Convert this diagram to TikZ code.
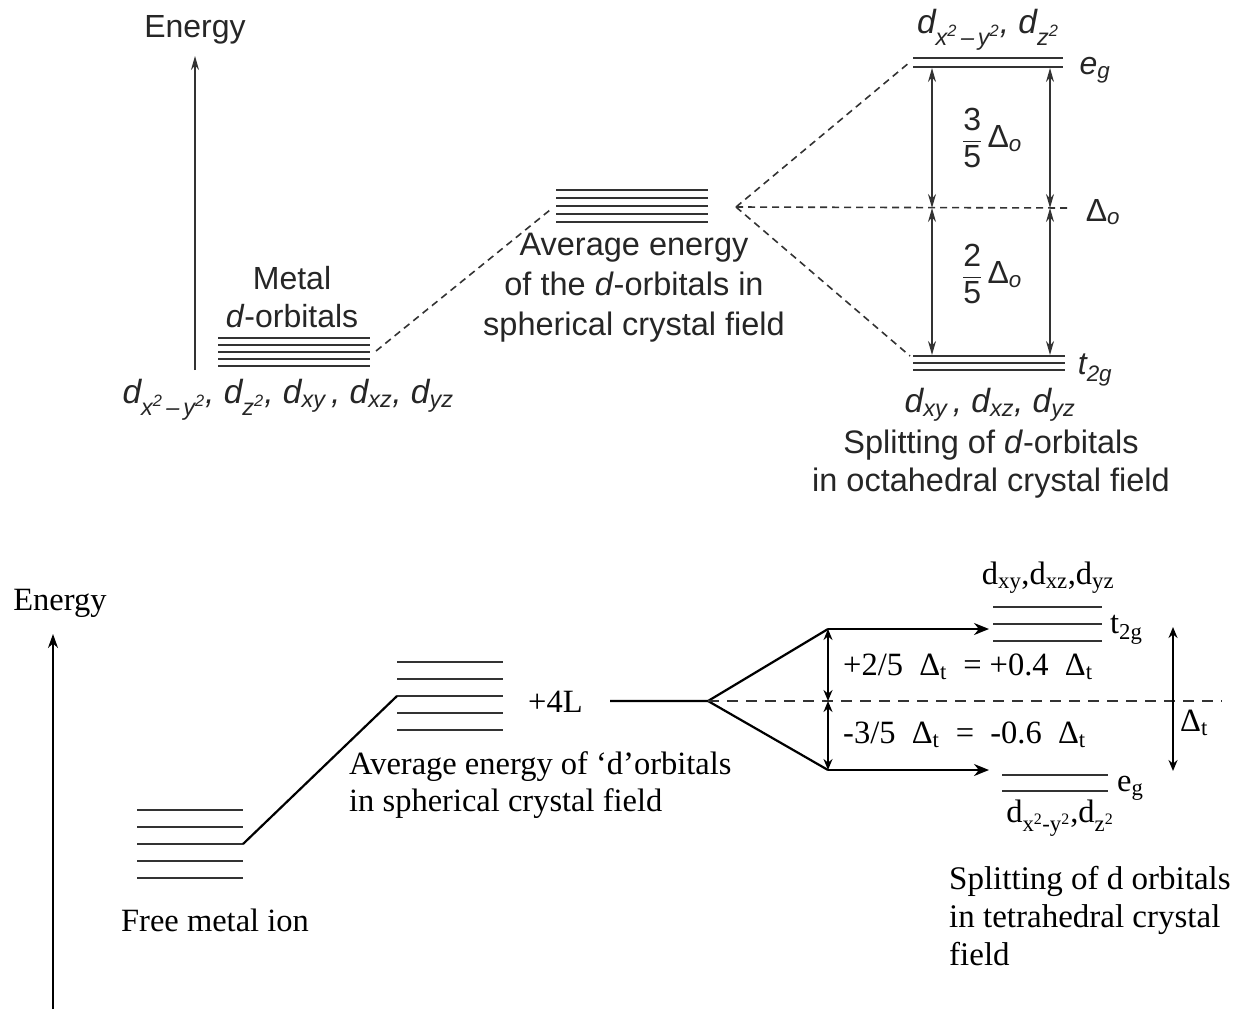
\documentclass[tikz,border=0pt]{standalone}
\usepackage{amsmath}
\usepackage{fontspec}
\setmainfont{Liberation Serif}
\setsansfont{Liberation Sans}
\usepackage{tikz}
\usetikzlibrary{positioning, arrows.meta, calc}

\newcommand{\sqr}{\textsuperscript{2}}
\tikzset{
  tlab/.style={font=\fontsize{32}{38}\selectfont\sffamily, text=black!85, inner sep=0pt},
  blab/.style={font=\fontsize{32.5}{37}\selectfont, inner sep=0pt},
  tlvl/.style={line width=2pt, black!80},
  blvl/.style={line width=2.4pt, black!80},
  tdash/.style={dashed, dash pattern=on 7pt off 5pt, line width=1.6pt, black!80},
  bdash/.style={dashed, dash pattern=on 11pt off 8pt, line width=1.8pt, black!80},
  tarr/.style={{Stealth[length=14pt,width=8pt]}-{Stealth[length=14pt,width=8pt]}, line width=1.4pt, black!80},
  barr/.style={{Stealth[length=11pt,width=9pt]}-{Stealth[length=11pt,width=9pt]}, line width=1.8pt},
  bline/.style={line width=2.2pt}
}

\begin{document}
\begin{tikzpicture}[x=1pt, y=-1pt]
  \useasboundingbox (0,0) rectangle (1241,1009);

  % ---- octahedral field (top)
  \node[tlab] (enA) at (195,30) {Energy};
  \coordinate (axAbot) at (195,370);
  \coordinate (axAtop) at (195,56);
  \draw[-{Stealth[length=14pt,width=8pt]}, line width=1.3pt, black!80] (axAbot) -- (axAtop);

  \foreach \y in {338,345,352,359,366}
    \draw[tlvl] (218,\y) -- (370,\y);
  \foreach \y in {190,198,206,214,222}
    \draw[tlvl] (556,\y) -- (708,\y);
  \foreach \y in {58,67}
    \draw[tlvl] (913,\y) -- (1063,\y);
  \foreach \y in {356,363,370}
    \draw[tlvl] (913,\y) -- (1065,\y);

  \coordinate (metR) at (376,351);
  \coordinate (avgL) at (550,210);
  \coordinate (avgR) at (736,207);
  \coordinate (egL) at (910,62);
  \coordinate (t2L) at (910,356);
  \coordinate (cenR) at (1068,208);
  \draw[tdash] (metR) -- (avgL);
  \draw[tdash] (avgR) -- (egL);
  \draw[tdash] (avgR) -- (t2L);
  \draw[tdash] (avgR) -- (cenR);

  \foreach \x/\n in {932/l,1050/r}{
    \coordinate (egB\n) at (\x,68);
    \coordinate (oc\n) at (\x,208);
    \coordinate (t2T\n) at (\x,355);
    \draw[tarr] (egB\n) -- (oc\n);
    \draw[tarr] (oc\n) -- (t2T\n);
  }

  \node[tlab, align=center] (metal) at (292,297) {Metal\\\textit{d}-orbitals};
  \node[tlab, font=\fontsize{33.5}{38}\selectfont\sffamily] (metsub) at (288,400) {\itshape d\textsubscript{x\sqr\,–\,y\sqr}, d\textsubscript{z\sqr}, d\textsubscript{xy}\,, d\textsubscript{xz}, d\textsubscript{yz}};
  \node[tlab, align=center, font=\fontsize{32.5}{40}\selectfont\sffamily] (avgtxt) at (634,288) {Average energy\\of the \textit{d}-orbitals in\\spherical crystal field};
  \node[tlab, font=\fontsize{33.5}{38}\selectfont\sffamily] (egsub) at (988,30) {\itshape d\textsubscript{x\sqr\,–\,y\sqr}, d\textsubscript{z\sqr}};
  \node[tlab] (eg) at (1095,70) {\itshape e\textsubscript{g}};
  \node[tlab] (frac3) at (992,138) {\(\dfrac{\text{3}}{\text{5}}\)\,Δ\textsubscript{\textit{o}}};
  \node[tlab] (frac2) at (992,274) {\(\dfrac{\text{2}}{\text{5}}\)\,Δ\textsubscript{\textit{o}}};
  \node[tlab] (delO) at (1103,212) {Δ\textsubscript{\textit{o}}};
  \node[tlab] (t2g) at (1095,370) {\itshape t\textsubscript{2g}};
  \node[tlab, font=\fontsize{33.5}{38}\selectfont\sffamily] (t2sub) at (990,405) {\itshape d\textsubscript{xy}\,, d\textsubscript{xz}, d\textsubscript{yz}};
  \node[tlab, align=center, font=\fontsize{32.5}{38}\selectfont\sffamily] (octtxt) at (991,464) {Splitting of \textit{d}-orbitals\\in octahedral crystal field};

  % ---- tetrahedral field (bottom)
  \node[blab] (enB) at (60,603) {Energy};
  \coordinate (axBbot) at (53,1009);
  \coordinate (axBtop) at (53,634);
  \draw[-{Stealth[length=14pt,width=10pt]}, line width=1.8pt] (axBbot) -- (axBtop);

  \foreach \y in {810,827,844,861,878}
    \draw[blvl] (137,\y) -- (243,\y);
  \foreach \y in {662,679,696,713,730}
    \draw[blvl] (397,\y) -- (503,\y);
  \foreach \y in {607,624,641}
    \draw[blvl] (993,\y) -- (1102,\y);
  \foreach \y in {775,791}
    \draw[blvl] (1002,\y) -- (1108,\y);

  \coordinate (freeR) at (243,844);
  \coordinate (avgL2) at (397,696);
  \draw[bline] (freeR) -- (avgL2);

  \coordinate (spA) at (610,701);
  \coordinate (spB) at (708,701);
  \coordinate (upL) at (828,629);
  \coordinate (dnL) at (828,770);
  \coordinate (upR) at (989,629);
  \coordinate (dnR) at (989,770);
  \coordinate (midT) at (828,701);
  \coordinate (dashR) at (1222,701);
  \draw[bline, line join=round] (spA) -- (spB) -- (upL);
  \draw[bline, line join=round] (spB) -- (dnL);
  \draw[bline, -{Stealth[length=15pt,width=12pt]}] (upL) -- (upR);
  \draw[bline, -{Stealth[length=15pt,width=12pt]}] (dnL) -- (dnR);
  \draw[bdash] (spB) -- (dashR);
  \draw[barr] (upL) -- (midT);
  \draw[barr] (midT) -- (dnL);

  \coordinate (dtT) at (1173,627);
  \coordinate (dtB) at (1173,771);
  \draw[barr] (dtT) -- (dtB);

  \node[blab] (free) at (215,920) {Free metal ion};
  \node[blab, align=left, anchor=north west] (avgtxt2) at (349,751) {Average energy of ‘d’orbitals\\in spherical crystal field};
  \node[blab, anchor=west] (fourL) at (528,702) {+4L};
  \node[blab, anchor=west] (plus) at (843,667) {+2/5\ \ Δ\textsubscript{t}\ \ = +0.4\ \ Δ\textsubscript{t}};
  \node[blab, anchor=west] (minus) at (843,735) {-3/5\ \ Δ\textsubscript{t}\ \ =\ \ -0.6\ \ Δ\textsubscript{t}};
  \node[blab] (t2sub2) at (1048,578) {d\textsubscript{xy},d\textsubscript{xz},d\textsubscript{yz}};
  \node[blab, anchor=west] (t2g2) at (1110,630) {t\textsubscript{2g}};
  \node[blab, anchor=west] (eg2) at (1117,788) {e\textsubscript{g}};
  \node[blab] (egsub2) at (1060,818) {d\textsubscript{x\sqr-y\sqr},d\textsubscript{z\sqr}};
  \node[blab, anchor=west] (delT) at (1180,723) {Δ\textsubscript{t}};
  \node[blab, align=left, anchor=north west, font=\fontsize{33}{38}\selectfont] (tettxt) at (949,866) {Splitting of d orbitals\\in tetrahedral crystal\\field};
\end{tikzpicture}
\end{document}
